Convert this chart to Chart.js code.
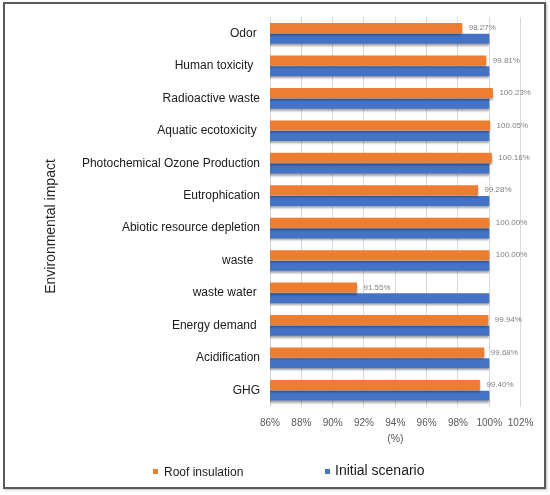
<!DOCTYPE html>
<html>
<head>
<meta charset="utf-8">
<script src="https://cdn.jsdelivr.net/npm/chart.js@4/dist/chart.umd.min.js"></script>
<style>
  html, body { margin: 0; padding: 0; background: #fff; overflow: hidden; }
  #wrap { position: absolute; left: 0; top: 0; width: 550px; height: 495px; }
  #frame { position: absolute; left: 3px; top: 2px; width: 543px; height: 487px; box-sizing: border-box;
           border: 2px solid #5a5a5a; pointer-events: none; box-shadow: 1px 1px 2px rgba(0,0,0,0.25); }
  .lg { position: absolute; font-family: "Liberation Sans", Arial, sans-serif; color: #1a1a1a; white-space: pre; line-height: 1; }
  .sq { position: absolute; width: 5px; height: 5px; }
</style>
</head>
<body>
<div id="wrap"><canvas id="c"></canvas></div>
<div id="frame"></div>
<div class="sq" style="left:153px; top:469px; background:#ED7D31;"></div>
<div class="lg" id="lg1" style="left:164px; top:466px; font-size:12px;">Roof insulation</div>
<div class="sq" style="left:325px; top:469px; background:#4472C4;"></div>
<div class="lg" id="lg2" style="left:335px; top:463px; font-size:14px;">Initial scenario</div>
<script>
const categories = [
  "Odor ", "Human toxicity  ", "Radioactive waste", "Aquatic ecotoxicity ",
  "Photochemical Ozone Production", "Eutrophication", "Abiotic resource depletion",
  "waste  ", "waste water ", "Energy demand ", "Acidification", "GHG"
];
const roofInsulation = [98.27, 99.81, 100.23, 100.05, 100.16, 99.28, 100.00, 100.00, 91.55, 99.94, 99.68, 99.40];
const initialScenario = [100, 100, 100, 100, 100, 100, 100, 100, 100, 100, 100, 100];
const seriesNames = ["Roof insulation", "Initial scenario"];
const xTicks = [86, 88, 90, 92, 94, 96, 98, 100, 102];
const yTitle = "Environmental impact";
const xTitle = "(%)";

const FONT = "'Liberation Sans', Arial, sans-serif";

const extras = {
  id: 'extras',
  beforeDatasetsDraw(chart) {
    const ctx = chart.ctx;
    ctx.save();
    ctx.shadowColor = 'rgba(0,0,0,0.35)';
    ctx.shadowBlur = 2;
    ctx.shadowOffsetX = 0;
    ctx.shadowOffsetY = 2;
  },
  afterDatasetsDraw(chart) {
    const ctx = chart.ctx;
    ctx.restore();
    const meta = chart.getDatasetMeta(0);
    ctx.save();
    ctx.font = "8px " + FONT;
    ctx.fillStyle = '#7f7f7f';
    ctx.textAlign = 'left';
    ctx.textBaseline = 'middle';
    meta.data.forEach((bar, i) => {
      ctx.fillText(roofInsulation[i].toFixed(2) + '%', bar.x + 6.5, bar.y);
    });
    ctx.restore();
  },
  afterDraw(chart) {
    const ctx = chart.ctx;
    ctx.save();
    ctx.translate(51, 226.5);
    ctx.rotate(-Math.PI / 2);
    ctx.font = "14px " + FONT;
    ctx.fillStyle = '#262626';
    ctx.textAlign = 'center';
    ctx.textBaseline = 'middle';
    ctx.fillText(yTitle, 0, 0);
    ctx.restore();
  }
};

new Chart(document.getElementById('c'), {
  type: 'bar',
  data: {
    labels: categories,
    datasets: [
      { label: seriesNames[0], data: roofInsulation, backgroundColor: '#ED7D31', borderWidth: 0,
        categoryPercentage: 0.66, barPercentage: 0.93 },
      { label: seriesNames[1], data: initialScenario, backgroundColor: '#4472C4', borderWidth: 0,
        categoryPercentage: 0.66, barPercentage: 0.93 }
    ]
  },
  options: {
    indexAxis: 'y',
    responsive: true,
    maintainAspectRatio: false,
    animation: false,
    devicePixelRatio: 1,
    layout: { padding: { top: 16.3, right: 29.4, left: 0, bottom: 0 } },
    plugins: { legend: { display: false }, tooltip: { enabled: false } },
    scales: {
      x: {
        type: 'linear',
        min: xTicks[0],
        max: xTicks[xTicks.length - 1],
        afterBuildTicks(scale) { scale.ticks = xTicks.map(v => ({ value: v })); },
        afterFit(scale) { scale.height = 88.5; },
        grid: { color: '#d9d9d9', lineWidth: 1, drawTicks: false },
        border: { display: false },
        ticks: { padding: 10.5, color: '#595959', font: { family: FONT, size: 10 },
                 maxRotation: 0, minRotation: 0, autoSkip: false,
                 callback: v => v + '%' },
        title: { display: true, text: xTitle, color: '#595959',
                 font: { family: FONT, size: 10.5 }, padding: { top: 0, bottom: 49.4 } }
      },
      y: {
        afterFit(scale) { scale.width = 270; },
        grid: { display: false, drawTicks: false },
        border: { display: false },
        ticks: { padding: 10, color: '#1a1a1a', font: { family: FONT, size: 12 } }
      }
    }
  },
  plugins: [extras]
});
</script>
</body>
</html>
